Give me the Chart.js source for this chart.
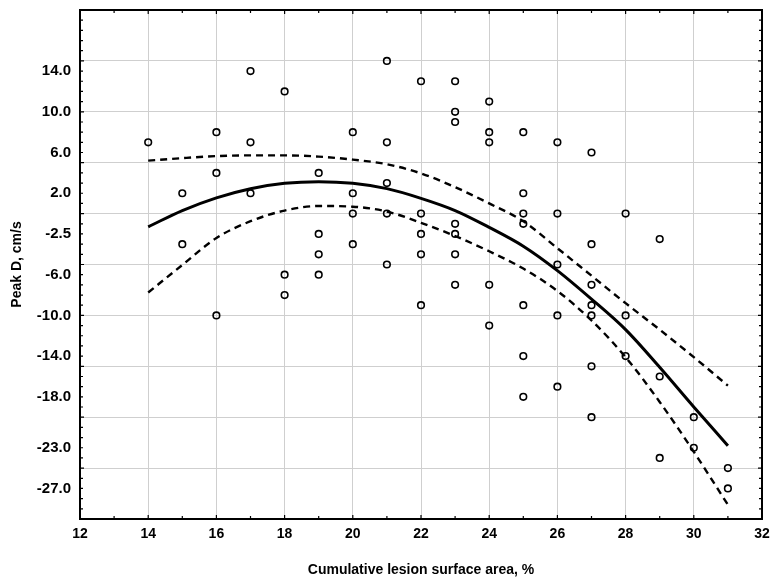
<!DOCTYPE html>
<html>
<head>
<meta charset="utf-8">
<script src="https://cdn.jsdelivr.net/npm/chart.js@4.4.1/dist/chart.umd.min.js"></script>
<style>
html,body{margin:0;padding:0;background:#ffffff;}
#wrap{width:780px;height:588px;}
</style>
</head>
<body>
<div id="wrap"><canvas id="c" width="780" height="588"></canvas></div>
<script>
// Observations: lesion surface area (%) and Peak D (cm/s)
const pointX = [14,
  15,15,
  16,16,16,
  17,17,17,
  18,18,18,
  19,19,19,19,
  20,20,20,20,
  21,21,21,21,21,
  22,22,22,22,22,
  23,23,23,23,23,23,23,
  24,24,24,24,24,
  25,25,25,25,25,25,25,
  26,26,26,26,26,
  27,27,27,27,27,27,27,
  28,28,28,
  29,29,29,
  30,30,
  31,31];
const pointY = [7,
  2,-3,
  8,4,-10,
  14,7,2,
  12,-6,-8,
  4,-2,-4,-6,
  8,2,0,-3,
  15,7,3,0,-5,
  13,0,-2,-4,-9,
  13,10,9,-1,-2,-4,-7,
  11,8,7,-7,-11,
  8,2,0,-1,-9,-14,-18,
  7,0,-5,-10,-17,
  6,-3,-7,-9,-10,-15,-20,
  0,-10,-14,
  -2.5,-16,-24,
  -20,-23,
  -25,-27];

// Fitted curve and its confidence band
const curveX = [14,15,16,17,18,19,20,21,22,23,24,25,26,27,28,29,30,31];
const fitY   = [-1.3,0.3,1.55,2.45,2.98,3.14,2.98,2.45,1.5,0.3,-1.35,-3.2,-5.6,-8.4,-11.4,-15.1,-19.0,-22.8];
const upperY = [5.2,5.45,5.65,5.72,5.72,5.6,5.3,4.85,3.95,2.6,1.0,-0.75,-3.4,-6.1,-8.8,-11.4,-14.1,-16.9];
const lowerY = [-7.75,-5.05,-2.4,-0.75,0.3,0.75,0.68,0.2,-0.9,-2.2,-3.7,-5.4,-7.6,-10.5,-14.1,-18.5,-23.4,-28.6];

// Axes
const xTicks = [12,14,16,18,20,22,24,26,28,30,32];
const yGridValues = [-30,-25,-20,-15,-10,-5,0,5,10,15,20];
const yTickValues = [14,10,6,2,-2,-6,-10,-14,-18,-23,-27];
const yTickLabels = ['14.0','10.0','6.0','2.0','-2.5','-6.0','-10.0','-14.0','-18.0','-23.0','-27.0'];

const FONT = "'Liberation Sans', Arial, Helvetica, sans-serif";

const scatterData = pointX.map((x, i) => ({x: x, y: pointY[i]}));
const toXY = arr => curveX.map((x, i) => ({x: x, y: arr[i]}));

const framePlugin = {
  id: 'frame',
  afterDraw(chart) {
    const {ctx, chartArea: a, scales} = chart;
    const xs = scales.x, ys = scales.y;
    ctx.save();
    ctx.strokeStyle = '#000';
    ctx.lineWidth = 1.2;
    // minor ticks, inward, on all four sides
    for (let v = xs.min; v <= xs.max; v += 1) {
      const px = xs.getPixelForValue(v);
      const len = (v % 2 === 0) ? 4 : 3;
      ctx.beginPath();
      ctx.moveTo(px, a.bottom); ctx.lineTo(px, a.bottom - len);
      ctx.moveTo(px, a.top); ctx.lineTo(px, a.top + len);
      ctx.stroke();
    }
    for (let v = ys.min; v <= ys.max; v += 1) {
      const py = ys.getPixelForValue(v);
      const len = (v % 5 === 0) ? 4 : 3;
      ctx.beginPath();
      ctx.moveTo(a.left, py); ctx.lineTo(a.left + len, py);
      ctx.moveTo(a.right, py); ctx.lineTo(a.right - len, py);
      ctx.stroke();
    }
    ctx.lineWidth = 2;
    ctx.strokeRect(a.left, a.top, a.right - a.left, a.bottom - a.top);
    ctx.restore();
  }
};

new Chart(document.getElementById('c'), {
  type: 'scatter',
  data: {
    datasets: [
      {
        label: 'Observations',
        data: scatterData,
        pointStyle: 'circle',
        pointRadius: 3.3,
        pointBorderWidth: 1.6,
        pointBorderColor: '#000',
        pointBackgroundColor: 'rgba(0,0,0,0)',
        showLine: false
      },
      {
        label: 'Fit',
        data: toXY(fitY),
        showLine: true,
        borderColor: '#000',
        borderWidth: 3,
        pointRadius: 0,
        cubicInterpolationMode: 'monotone'
      },
      {
        label: 'Upper',
        data: toXY(upperY),
        showLine: true,
        borderColor: '#000',
        borderWidth: 2.4,
        borderDash: [7, 5],
        pointRadius: 0,
        cubicInterpolationMode: 'monotone'
      },
      {
        label: 'Lower',
        data: toXY(lowerY),
        showLine: true,
        borderColor: '#000',
        borderWidth: 2.4,
        borderDash: [7, 5],
        pointRadius: 0,
        cubicInterpolationMode: 'monotone'
      }
    ]
  },
  options: {
    responsive: false,
    animation: false,
    devicePixelRatio: 1,
    layout: {padding: {left: 0, right: 18, top: 10, bottom: 0}},
    plugins: {legend: {display: false}, tooltip: {enabled: false}},
    scales: {
      x: {
        type: 'linear',
        min: 12, max: 32,
        afterBuildTicks(scale) { scale.ticks = xTicks.map(v => ({value: v})); },
        afterFit(scale) { scale.height = 69; scale.paddingLeft = 0; scale.paddingRight = 0; },
        grid: {color: '#cfcfcf', lineWidth: 1, drawTicks: false},
        border: {display: false},
        ticks: {
          autoSkip: false,
          maxRotation: 0,
          padding: 7,
          color: '#000',
          font: {family: FONT, size: 14, weight: 'bold'},
          callback: v => String(v)
        },
        title: {
          display: true,
          text: 'Cumulative lesion surface area, %',
          color: '#000',
          font: {family: FONT, size: 14, weight: 'bold'},
          padding: {top: 0, bottom: 9}
        }
      },
      y: {
        type: 'linear',
        min: -30, max: 20,
        afterBuildTicks(scale) {
          const vals = Array.from(new Set(yGridValues.concat(yTickValues))).sort((a, b) => a - b);
          scale.ticks = vals.map(v => ({value: v}));
        },
        afterFit(scale) { scale.width = 80; scale.paddingTop = 0; scale.paddingBottom = 0; },
        grid: {
          color: ctx => (ctx.tick && yGridValues.includes(ctx.tick.value)) ? '#cfcfcf' : 'rgba(0,0,0,0)',
          lineWidth: 1,
          drawTicks: false
        },
        border: {display: false},
        ticks: {
          autoSkip: false,
          padding: 9,
          color: '#000',
          font: {family: FONT, size: 15, weight: 'bold'},
          callback: v => {
            const i = yTickValues.indexOf(v);
            return i >= 0 ? yTickLabels[i] : '';
          }
        },
        title: {
          display: true,
          text: 'Peak D, cm/s',
          color: '#000',
          font: {family: FONT, size: 14, weight: 'bold'},
          padding: {top: 9, bottom: 0}
        }
      }
    }
  },
  plugins: [framePlugin]
});
</script>
</body>
</html>
